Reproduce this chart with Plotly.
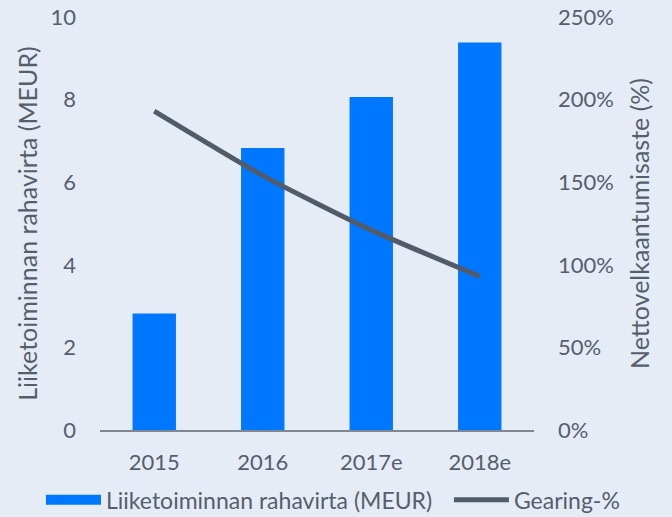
import plotly.graph_objects as go

categories = ["2015", "2016", "2017e", "2018e"]
cash_flow = [2.82, 6.83, 8.06, 9.38]
gearing = [193, 154, 121, 93]

bar_name = "Liiketoiminnan rahavirta (MEUR)"
line_name = "Gearing-%"

BLUE = "#0077ff"
LINE = "#525c69"
TEXT = "#555f6b"
BG = "#e5ecf6"
FONT = "Lato, Open Sans, sans-serif"
FS = 22
TFS = 25

fig = go.Figure()
fig.add_trace(go.Bar(x=categories, y=cash_flow, name=bar_name, marker=dict(color=BLUE, line=dict(width=0)),
                     showlegend=False, yaxis="y"))
# legend proxy for the bar series (wide rectangle swatch)
fig.add_trace(go.Scatter(x=[None], y=[None], mode="lines", name=bar_name,
                         line=dict(color=BLUE, width=14), yaxis="y", legend="legend"))
fig.add_trace(go.Scatter(x=categories, y=gearing, name=line_name, mode="lines",
                         line=dict(color=LINE, width=5, shape="spline", smoothing=0.6), yaxis="y2",
                         legend="legend2"))

legend_common = dict(orientation="h", yanchor="middle", y=-0.169, xanchor="left",
                     font=dict(size=23, color=TEXT), itemwidth=55, bgcolor="rgba(0,0,0,0)")

fig.update_layout(
    width=672, height=517,
    paper_bgcolor=BG, plot_bgcolor=BG,
    font=dict(family=FONT, size=FS, color=TEXT),
    margin=dict(l=100, r=138, t=17, b=87, autoexpand=False),
    bargap=0.6,
    xaxis=dict(showline=True, linecolor="#7f8790", linewidth=2, showgrid=False, ticks="",
               tickfont=dict(size=FS), ticklabelstandoff=12, automargin=False),
    yaxis=dict(range=[0, 10], dtick=2, showgrid=False, zeroline=False, automargin=False,
               title=dict(text="Liiketoiminnan rahavirta (MEUR)", font=dict(size=TFS), standoff=5),
               ticks="", tickfont=dict(size=FS), ticklabelstandoff=23),
    yaxis2=dict(range=[0, 250], dtick=50, overlaying="y", side="right", showgrid=False, zeroline=False,
                ticksuffix="%", ticks="", tickfont=dict(size=FS), automargin=False, ticklabelstandoff=23,
                title=dict(text="Nettovelkaantumisaste (%)", font=dict(size=TFS), standoff=18)),
    legend=dict(x=-0.136, **legend_common),
    legend2=dict(x=0.804, **legend_common),
)

fig.write_html("out.html", config={"displayModeBar": False},
               post_script="document.body.style.margin='0';document.body.style.overflow='hidden';")
